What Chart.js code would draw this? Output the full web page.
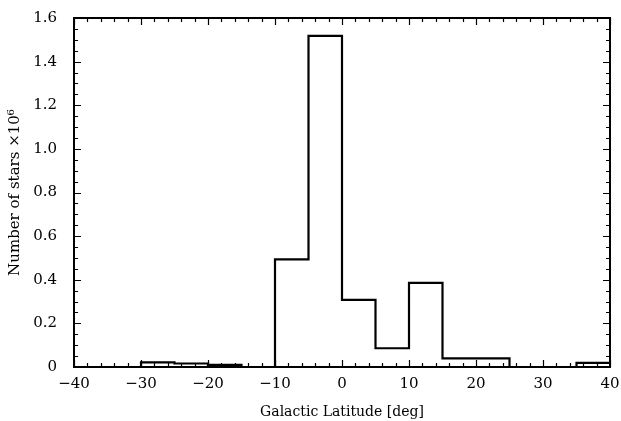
<!DOCTYPE html>
<html>
<head>
<meta charset="utf-8">
<script src="https://cdn.jsdelivr.net/npm/chart.js@4"></script>
<style>
html,body{margin:0;padding:0;background:#fff;}
#wrap{width:621px;height:421px;}
</style>
</head>
<body>
<div id="wrap"><canvas id="c" width="621" height="421"></canvas></div>
<script>
const binEdges = [-40,-35,-30,-25,-20,-15,-10,-5,0,5,10,15,20,25,30,35,40];
const counts = [0,0,0.021,0.016,0.010,0,0.493,1.518,0.308,0.086,0.386,0.040,0.040,0,0,0.019];
const xTickValues = [-40,-30,-20,-10,0,10,20,30,40];
const yTickValues = [0,0.2,0.4,0.6,0.8,1.0,1.2,1.4,1.6];
const xTitle = 'Galactic Latitude [deg]';
const yTitle = 'Number of stars \u00d710\u2076';

const points = binEdges.map((e, i) => ({x: e, y: i < counts.length ? counts[i] : counts[counts.length - 1]}));

const FONT = "'DejaVu Serif', 'Liberation Serif', serif";

const innerTicks = {
  id: 'innerTicks',
  afterDraw(chart) {
    const {ctx, chartArea: a, scales: {x, y}} = chart;
    ctx.save();
    ctx.strokeStyle = '#000';
    ctx.lineWidth = 1.2;
    ctx.beginPath();
    for (let v = x.min; v <= x.max + 1e-9; v += 2) {
      const px = Math.round(x.getPixelForValue(v)) + 0.5;
      const len = (Math.abs(v % 10) < 1e-9) ? 7 : 4;
      ctx.moveTo(px, a.bottom); ctx.lineTo(px, a.bottom - len);
      ctx.moveTo(px, a.top); ctx.lineTo(px, a.top + len);
    }
    for (let k = 0; k <= 32; k++) {
      const v = k * 0.05;
      const py = Math.round(y.getPixelForValue(v)) + 0.5;
      const len = (k % 4 === 0) ? 7 : 4;
      ctx.moveTo(a.left, py); ctx.lineTo(a.left + len, py);
      ctx.moveTo(a.right, py); ctx.lineTo(a.right - len, py);
    }
    ctx.stroke();
    ctx.lineWidth = 2;
    ctx.strokeRect(a.left, a.top, a.right - a.left, a.bottom - a.top);
    ctx.restore();
  }
};

new Chart(document.getElementById('c'), {
  type: 'scatter',
  data: {
    datasets: [{
      data: points,
      showLine: true,
      stepped: 'before',
      borderColor: '#000',
      borderWidth: 2.2,
      pointRadius: 0,
      fill: false
    }]
  },
  options: {
    responsive: false,
    animation: false,
    devicePixelRatio: 1,
    layout: {padding: {top: 10, right: 11, left: 0, bottom: 0}},
    plugins: {legend: {display: false}, tooltip: {enabled: false}},
    scales: {
      x: {
        type: 'linear', min: -40, max: 40,
        afterBuildTicks: s => { s.ticks = xTickValues.map(v => ({value: v})); },
        afterFit: s => { s.height = 54; },
        grid: {display: false},
        border: {display: false},
        ticks: {
          color: '#000', padding: 0, maxRotation: 0,
          font: {family: FONT, size: 15},
          callback: v => (v < 0 ? '\u2212' + Math.abs(v) : String(v))
        },
        title: {display: true, text: xTitle, color: '#000', font: {family: FONT, size: 14}, padding: {top: 6, bottom: 0}}
      },
      y: {
        type: 'linear', min: 0, max: 1.6,
        afterBuildTicks: s => { s.ticks = yTickValues.map(v => ({value: v})); },
        afterFit: s => { s.width = 74; },
        grid: {display: false},
        border: {display: false},
        ticks: {
          color: '#000', padding: 9,
          font: {family: FONT, size: 15},
          callback: v => (v === 0 ? '0' : v.toFixed(1))
        },
        title: {display: true, text: yTitle, color: '#000', font: {family: FONT, size: 15}, padding: {top: 6, bottom: 0}}
      }
    }
  },
  plugins: [innerTicks]
});
</script>
</body>
</html>
